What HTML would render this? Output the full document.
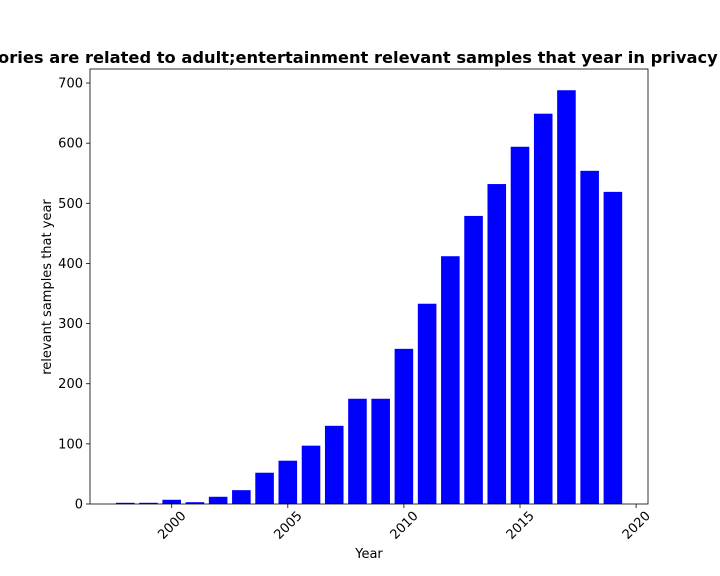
<!DOCTYPE html>
<html><head><meta charset="utf-8"><style>
body{margin:0;background:#fff;}
svg{display:block;font-family:"DejaVu Sans","Liberation Sans",sans-serif;}
</style></head><body>
<svg id="chart" width="720" height="576" xmlns="http://www.w3.org/2000/svg">
<text x="369" y="63" text-anchor="middle" font-size="16.3" font-weight="bold">Categories are related to adult;entertainment relevant samples that year in privacy policies</text>
<g id="bars"></g>
<g id="axes"></g>
<text x="369" y="558" text-anchor="middle" font-size="13">Year</text>
<text transform="translate(51,287) rotate(-90)" text-anchor="middle" font-size="13">relevant samples that year</text>
</svg>
<script>
const years=[1998,1999,2000,2001,2002,2003,2004,2005,2006,2007,2008,2009,2010,2011,2012,2013,2014,2015,2016,2017,2018,2019];
const counts=[2,2,7,3,12,23,52,72,97,130,175,175,258,333,412,479,532,594,649,688,554,519];
const yTicks=[0,100,200,300,400,500,600,700];
const xTicks=[2000,2005,2010,2015,2020];
const L=90,R=648,T=69,B=504;
const xs=y=>171.7+(y-2000)*23.22;
const ys=v=>B-v*0.6014;
const NS="http://www.w3.org/2000/svg";
function mk(t,a){const e=document.createElementNS(NS,t);for(const k in a)e.setAttribute(k,a[k]);return e;}
const bars=document.getElementById('bars'),axes=document.getElementById('axes');
years.forEach((yr,i)=>{
 const w=0.8*23.22;
 const r=mk('rect',{x:xs(yr)-w/2,y:ys(counts[i]),width:w,height:B-ys(counts[i]),fill:'#0000ff'});
 
 
 bars.appendChild(r);
});
const frame=mk('rect',{x:L,y:T,width:R-L,height:B-T,fill:'none',stroke:'#000','stroke-width':0.8});


axes.appendChild(frame);
yTicks.forEach(v=>{
 const y=ys(v);
 axes.appendChild(mk('line',{x1:L-4,x2:L,y1:y,y2:y,stroke:'#000','stroke-width':0.8}));
 const t=mk('text',{x:L-7,y:y+4.5,'text-anchor':'end','font-size':13});
 t.textContent=v;
 
 
 axes.appendChild(t);
});
xTicks.forEach(v=>{
 const x=xs(v);
 axes.appendChild(mk('line',{x1:x,x2:x,y1:B,y2:B+4,stroke:'#000','stroke-width':0.8}));
 const cy=B+21;
 const t=mk('text',{x:x,y:cy+4.5,'text-anchor':'middle','font-size':13,transform:`rotate(-45 ${x} ${cy})`});
 t.textContent=v;
 
 
 axes.appendChild(t);
});
</script>
</body></html>
